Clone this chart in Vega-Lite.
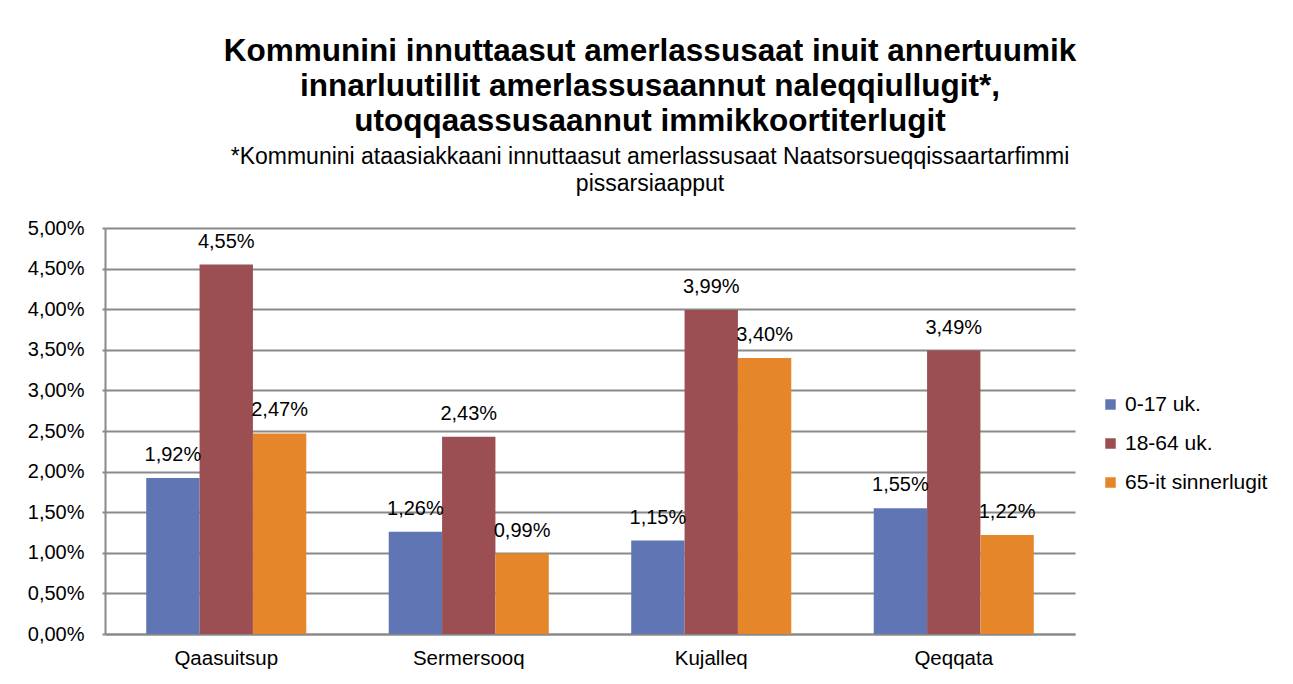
{
  "$schema": "https://vega.github.io/schema/vega-lite/v6.json",
  "width": 970,
  "height": 406,
  "autosize": {"type": "none"},
  "padding": {"left": 105, "top": 228, "right": 218, "bottom": 50},
  "background": "white",
  "title": {
    "text": ["Kommunini innuttaasut amerlassusaat inuit annertuumik", "innarluutillit amerlassusaannut naleqqiullugit*,", "utoqqaassusaannut immikkoortiterlugit"],
    "subtitle": ["*Kommunini ataasiakkaani innuttaasut amerlassusaat Naatsorsueqqissaartarfimmi", "pissarsiaapput"],
    "anchor": "middle",
    "frame": "group",
    "dx": 60,
    "offset": 22,
    "font": "Liberation Sans",
    "fontSize": 31.5,
    "fontWeight": "bold",
    "lineHeight": 35,
    "color": "#000000",
    "subtitleFont": "Liberation Sans",
    "subtitleFontSize": 23,
    "subtitleLineHeight": 27,
    "subtitleColor": "#000000",
    "subtitlePadding": 9
  },
  "data": {
    "values": [
      {"kommune": "Qaasuitsup", "gruppe": "0-17 uk.", "andel": 0.0192},
      {"kommune": "Qaasuitsup", "gruppe": "18-64 uk.", "andel": 0.0455},
      {"kommune": "Qaasuitsup", "gruppe": "65-it sinnerlugit", "andel": 0.0247},
      {"kommune": "Sermersooq", "gruppe": "0-17 uk.", "andel": 0.0126},
      {"kommune": "Sermersooq", "gruppe": "18-64 uk.", "andel": 0.0243},
      {"kommune": "Sermersooq", "gruppe": "65-it sinnerlugit", "andel": 0.0099},
      {"kommune": "Kujalleq", "gruppe": "0-17 uk.", "andel": 0.0115},
      {"kommune": "Kujalleq", "gruppe": "18-64 uk.", "andel": 0.0399},
      {"kommune": "Kujalleq", "gruppe": "65-it sinnerlugit", "andel": 0.0340},
      {"kommune": "Qeqqata", "gruppe": "0-17 uk.", "andel": 0.0155},
      {"kommune": "Qeqqata", "gruppe": "18-64 uk.", "andel": 0.0349},
      {"kommune": "Qeqqata", "gruppe": "65-it sinnerlugit", "andel": 0.0122}
    ]
  },
  "encoding": {
    "x": {
      "field": "kommune",
      "type": "nominal",
      "sort": ["Qaasuitsup", "Sermersooq", "Kujalleq", "Qeqqata"],
      "scale": {"paddingInner": 0.34, "paddingOuter": 0.17},
      "axis": {
        "title": null,
        "labelAngle": 0,
        "labelFont": "Liberation Sans",
        "labelFontSize": 20.5,
        "labelColor": "#000000",
        "labelPadding": 14,
        "ticks": false,
        "domainColor": "#898989",
        "domainWidth": 2,
        "grid": false
      }
    },
    "xOffset": {
      "field": "gruppe",
      "type": "nominal",
      "scale": {"domain": ["0-17 uk.", "18-64 uk.", "65-it sinnerlugit"], "paddingInner": 0, "paddingOuter": 0}
    },
    "y": {
      "field": "andel",
      "type": "quantitative",
      "scale": {"domain": [0, 0.05], "nice": false},
      "axis": {
        "title": null,
        "format": ".2%",
        "values": [0, 0.005, 0.01, 0.015, 0.02, 0.025, 0.03, 0.035, 0.04, 0.045, 0.05],
        "labelFont": "Liberation Sans",
        "labelFontSize": 20,
        "labelColor": "#000000",
        "labelPadding": 18,
        "tickSize": 3,
        "tickColor": "#898989",
        "tickWidth": 2,
        "domainColor": "#898989",
        "domainWidth": 2,
        "grid": true,
        "gridColor": "#898989",
        "gridWidth": 2
      }
    }
  },
  "layer": [
    {
      "mark": {"type": "bar"},
      "encoding": {
        "color": {
          "field": "gruppe",
          "type": "nominal",
          "scale": {"domain": ["0-17 uk.", "18-64 uk.", "65-it sinnerlugit"], "range": ["#6076b4", "#9c4f52", "#e6862a"]},
          "legend": {
            "title": null,
            "orient": "none",
            "legendX": 995,
            "legendY": 166,
            "symbolType": "square",
            "symbolSize": 110,
            "symbolStrokeWidth": 0,
            "labelFont": "Liberation Sans",
            "labelFontSize": 21,
            "labelColor": "#000000",
            "labelOffset": 4,
            "rowPadding": 17
          }
        }
      }
    },
    {
      "mark": {"type": "text", "font": "Liberation Sans", "fontSize": 20, "color": "#000000", "baseline": "alphabetic", "dy": -17},
      "encoding": {
        "text": {"field": "andel", "type": "quantitative", "format": ".2%"}
      }
    }
  ],
  "config": {
    "locale": {"number": {"decimal": ",", "thousands": ".", "grouping": [3], "currency": ["", " kr."]}},
    "view": {"stroke": null}
  }
}
